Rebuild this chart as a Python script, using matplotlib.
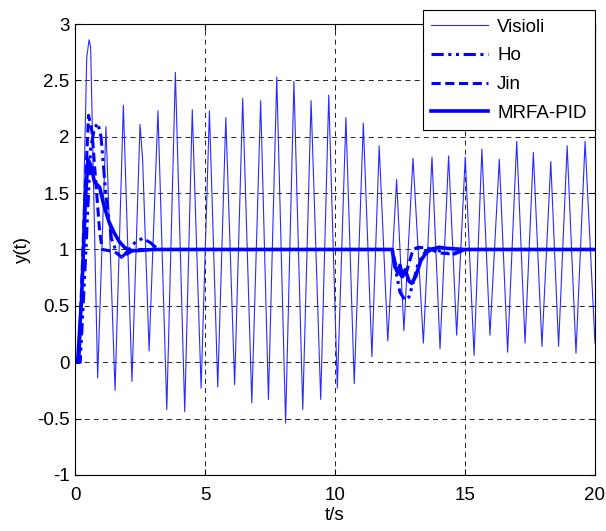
import matplotlib
matplotlib.use("Agg")
import matplotlib.pyplot as plt

plt.rcParams['font.family'] = ['Liberation Sans', 'DejaVu Sans']

# Visioli: oscillating response (extrema)
t_vis = [0, 0.2, 0.45, 0.54, 0.6, 0.87, 1.19, 1.54, 1.86, 2.19, 2.5, 2.6, 2.85,
         3.19, 3.53, 3.86, 4.22, 4.51, 4.85, 5.17, 5.49, 5.8, 6.14, 6.45, 6.8,
         7.14, 7.44, 7.76, 8.1, 8.42, 8.76, 9.08, 9.45, 9.76, 10.09, 10.42, 10.74,
         11.09, 11.42, 11.7, 12.03, 12.37, 12.65, 13.0, 13.4, 13.73, 14.04, 14.37,
         14.68, 15.01, 15.35, 15.65, 15.96, 16.32, 16.64, 16.99, 17.31, 17.63,
         17.96, 18.3, 18.6, 18.93, 19.27, 19.62, 20]
y_vis = [0, 0, 2.7, 2.86, 2.8, -0.14, 2.09, -0.25, 2.28, -0.17, 2.11, 1.8, 0.10,
         2.23, -0.42, 2.57, -0.44, 2.24, -0.23, 2.23, -0.22, 2.17, -0.2, 2.34, -0.36,
         2.32, -0.33, 2.53, -0.54, 2.49, -0.42, 2.32, -0.33, 2.37, -0.23, 2.17, -0.19,
         2.12, 0.05, 1.92, 0.19, 1.62, 0.28, 1.81, 0.17, 1.82, 0.12, 1.83,
         0.24, 1.82, 0.06, 1.89, 0.24, 1.80, 0.09, 1.96, 0.17, 1.86,
         0.14, 1.78, 0.14, 1.92, 0.08, 1.96, 0.17]

# Ho
t_ho = [0, 0.2, 0.4, 0.6, 0.75, 0.88, 1.0, 1.2, 1.4, 1.6, 1.8, 2.0, 2.3, 2.6,
        2.9, 3.2, 3.5, 12.2, 12.35, 12.5, 12.7, 12.85, 13.0, 13.2, 13.5, 13.8,
        14.2, 14.6, 15.0, 20]
y_ho = [0, 0, 0.9, 1.9, 2.08, 2.12, 2.0, 1.45, 1.1, 0.97, 0.93, 0.98, 1.06, 1.1,
        1.06, 1.0, 1.0, 1.0, 0.8, 0.62, 0.55, 0.58, 0.7, 0.88, 0.99, 1.01,
        0.97, 0.96, 1.0, 1.0]

# Jin
t_jin = [0, 0.15, 0.35, 0.52, 0.65, 0.8, 0.95, 1.05, 1.3, 1.6, 1.8, 2.0, 2.3, 3.0,
         12.2, 12.35, 12.5, 12.6, 12.75, 12.9, 13.0, 13.2, 13.6, 14.0, 14.5, 15.0, 20]
y_jin = [0, 0, 1.3, 2.19, 2.05, 1.6, 1.15, 1.0, 0.99, 0.97, 0.93, 0.96, 1.0, 1.0,
         1.0, 0.85, 0.78, 0.75, 0.8, 0.92, 1.0, 1.02, 1.01, 0.97, 0.96, 1.0, 1.0]

# MRFA-PID
t_mr = [0, 0.1, 0.25, 0.4, 0.5, 0.6, 0.75, 0.95, 1.1, 1.3, 1.5, 1.7, 1.9, 2.1, 2.4,
        3.0, 12.2, 12.3, 12.4, 12.5, 12.6, 12.7, 12.85, 12.95, 13.1, 13.3, 13.5,
        13.7, 14.0, 14.3, 15.0, 20]
y_mr = [0, 0, 0.55, 1.45, 1.8, 1.75, 1.6, 1.55, 1.4, 1.25, 1.15, 1.07, 1.02, 0.99,
        0.99, 1.0, 1.0, 0.85, 0.8, 0.86, 0.76, 0.82, 0.72, 0.70, 0.76, 0.9, 0.97,
        1.0, 1.02, 1.01, 1.0, 1.0]

fig = plt.figure(figsize=(6.06, 5.31), dpi=100)
ax = fig.add_axes([0.1238, 0.1055, 0.858, 0.8493])

ax.plot(t_vis, y_vis, color='#2a2aff', lw=0.8, label='Visioli')
ax.plot(t_ho, y_ho, color='b', lw=2.2, linestyle=(0, (4, 1.5, 1, 1.5, 1, 1.5)), label='Ho')
ax.plot(t_jin, y_jin, color='b', lw=2.2, linestyle=(0, (3, 1.5)), label='Jin')
ax.plot(t_mr, y_mr, color='b', lw=2.6, label='MRFA-PID')

ax.set_xlim(0, 20)
ax.set_ylim(-1, 3)
ax.set_xticks([0, 5, 10, 15, 20])
ax.set_yticks([-1, -0.5, 0, 0.5, 1, 1.5, 2, 2.5, 3])
ax.set_yticklabels(['-1', '-0.5', '0', '0.5', '1', '1.5', '2', '2.5', '3'])
ax.grid(True, color='k', linestyle=(0, (6, 5)), lw=0.6)
ax.tick_params(direction='in', length=4, labelsize=13.5, top=True, right=True, pad=4)
ax.tick_params(axis='x', pad=9)
ax.set_xlabel('t/s', fontsize=13.5, labelpad=2)
ax.set_ylabel('y(t)', fontsize=13.5, labelpad=4)

leg = ax.legend(loc='upper right', bbox_to_anchor=(1.0, 1.031), borderaxespad=0,
                fancybox=False, framealpha=1, edgecolor='k', fontsize=13.5,
                handlelength=3.0, handletextpad=0.5, labelspacing=0.62,
                borderpad=0.45)
leg.get_frame().set_linewidth(0.8)

fig.savefig('out.png', dpi=100)
